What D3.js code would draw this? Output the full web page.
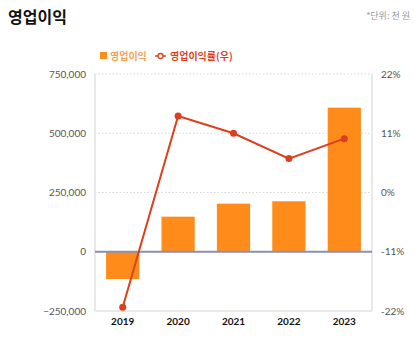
<!DOCTYPE html>
<html>
<head>
<meta charset="utf-8">
<script src="https://cdn.jsdelivr.net/npm/d3@7"></script>
<style>
  html, body { margin: 0; padding: 0; background: #fff; }
  svg { display: block; font-family: "Noto Sans CJK KR", "Noto Sans", sans-serif; }
</style>
</head>
<body>
<svg id="chart" width="414" height="339"></svg>
<script>
// Operating profit (thousand KRW) and operating margin (%) by year
const years = ["2019", "2020", "2021", "2022", "2023"];
const profit = [-115000, 148000, 203000, 213000, 608000];
const margin = [-21.3, 14.2, 11.0, 6.3, 10.0];
const leftTicks = [-250000, 0, 250000, 500000, 750000];
const rightTicks = [-22, -11, 0, 11, 22];

const W = 414, H = 339;
const m = { top: 74, right: 42, bottom: 28, left: 95 };
const svg = d3.select("#chart");

const x = d3.scaleBand().domain(years).range([m.left, W - m.right]).paddingInner(0.4).paddingOuter(0.2);
const yL = d3.scaleLinear().domain([-250000, 750000]).range([H - m.bottom, m.top]);
const yR = d3.scaleLinear().domain([-22, 22]).range([H - m.bottom, m.top]);

const barColor = "#ff8c1a";
const lineColor = "#dc3f1c";

// Title and unit note
svg.append("text").attr("x", 8).attr("y", 23)
  .attr("font-size", 16).attr("font-weight", 700).attr("fill", "#111").text("영업이익");
svg.append("text").attr("x", 410).attr("y", 19).attr("text-anchor", "end")
  .attr("font-size", 9).attr("fill", "#9a9a9a").text("*단위: 천 원");

// Legend
const lg = svg.append("g");
lg.append("rect").attr("x", 100).attr("y", 52).attr("width", 7).attr("height", 7).attr("fill", barColor);
lg.append("text").attr("x", 110).attr("y", 59.5).attr("font-size", 10).attr("font-weight", 700)
  .attr("fill", "#f4a152").text("영업이익");
lg.append("line").attr("x1", 155).attr("x2", 166).attr("y1", 56).attr("y2", 56)
  .attr("stroke", lineColor).attr("stroke-width", 1.5);
lg.append("circle").attr("cx", 160.5).attr("cy", 56).attr("r", 2.5)
  .attr("fill", "#fff").attr("stroke", lineColor).attr("stroke-width", 1.3);
lg.append("text").attr("x", 170).attr("y", 59.5).attr("font-size", 10).attr("font-weight", 700)
  .attr("fill", lineColor).text("영업이익률(우)");

// Dotted gridlines
svg.append("g").selectAll("line").data(leftTicks.filter(d => d > 0)).join("line")
  .attr("x1", m.left).attr("x2", W - m.right)
  .attr("y1", d => yL(d)).attr("y2", d => yL(d))
  .attr("stroke", "#d6d6d6").attr("stroke-dasharray", "1.5,2").attr("stroke-width", 1);

// Frame lines
svg.append("line").attr("x1", m.left).attr("x2", m.left).attr("y1", m.top).attr("y2", H - m.bottom)
  .attr("stroke", "#e2e2e2").attr("stroke-width", 1.5);
svg.append("line").attr("x1", W - m.right).attr("x2", W - m.right).attr("y1", m.top).attr("y2", H - m.bottom)
  .attr("stroke", "#e2e2e2").attr("stroke-width", 1.5);
svg.append("line").attr("x1", m.left).attr("x2", W - m.right).attr("y1", H - m.bottom).attr("y2", H - m.bottom)
  .attr("stroke", "#e2e2e2").attr("stroke-width", 1.5);

// Left axis
const fmt = d3.format(",");
const axL = svg.append("g").attr("transform", `translate(${m.left - 6},0)`)
  .call(d3.axisLeft(yL).tickValues(leftTicks).tickFormat(fmt).tickSize(0));
axL.select(".domain").remove();
axL.selectAll("text").attr("font-size", 10).attr("fill", "#555").attr("font-family", "Lato, 'Noto Sans', sans-serif");

// Right axis
const axR = svg.append("g").attr("transform", `translate(${W - m.right + 6},0)`)
  .call(d3.axisRight(yR).tickValues(rightTicks).tickFormat(d => d + "%").tickSize(0));
axR.select(".domain").remove();
axR.selectAll("text").attr("font-size", 10).attr("fill", "#555").attr("font-family", "Lato, 'Noto Sans', sans-serif");

// Bottom axis labels
const axB = svg.append("g").attr("transform", `translate(0,${H - m.bottom + 4})`)
  .call(d3.axisBottom(x).tickSize(0));
axB.select(".domain").remove();
axB.selectAll("text").attr("font-size", 10).attr("font-weight", 700).attr("fill", "#111")
  .attr("font-family", "Lato, 'Noto Sans', sans-serif");

// Bars
svg.append("g").selectAll("rect").data(profit).join("rect")
  .attr("x", (d, i) => x(years[i]))
  .attr("width", x.bandwidth())
  .attr("y", d => yL(Math.max(0, d)))
  .attr("height", d => Math.abs(yL(d) - yL(0)))
  .attr("fill", barColor);

// Zero line
svg.append("line").attr("x1", m.left).attr("x2", W - m.right).attr("y1", yL(0)).attr("y2", yL(0))
  .attr("stroke", "#8c8fb0").attr("stroke-width", 2);

// Margin line
const cx = (d, i) => x(years[i]) + x.bandwidth() / 2;
svg.append("path").datum(margin)
  .attr("d", d3.line().x(cx).y(d => yR(d)))
  .attr("fill", "none").attr("stroke", lineColor).attr("stroke-width", 2);
svg.append("g").selectAll("circle").data(margin).join("circle")
  .attr("cx", cx).attr("cy", d => yR(d)).attr("r", 3.5).attr("fill", lineColor);
</script>
</body>
</html>
